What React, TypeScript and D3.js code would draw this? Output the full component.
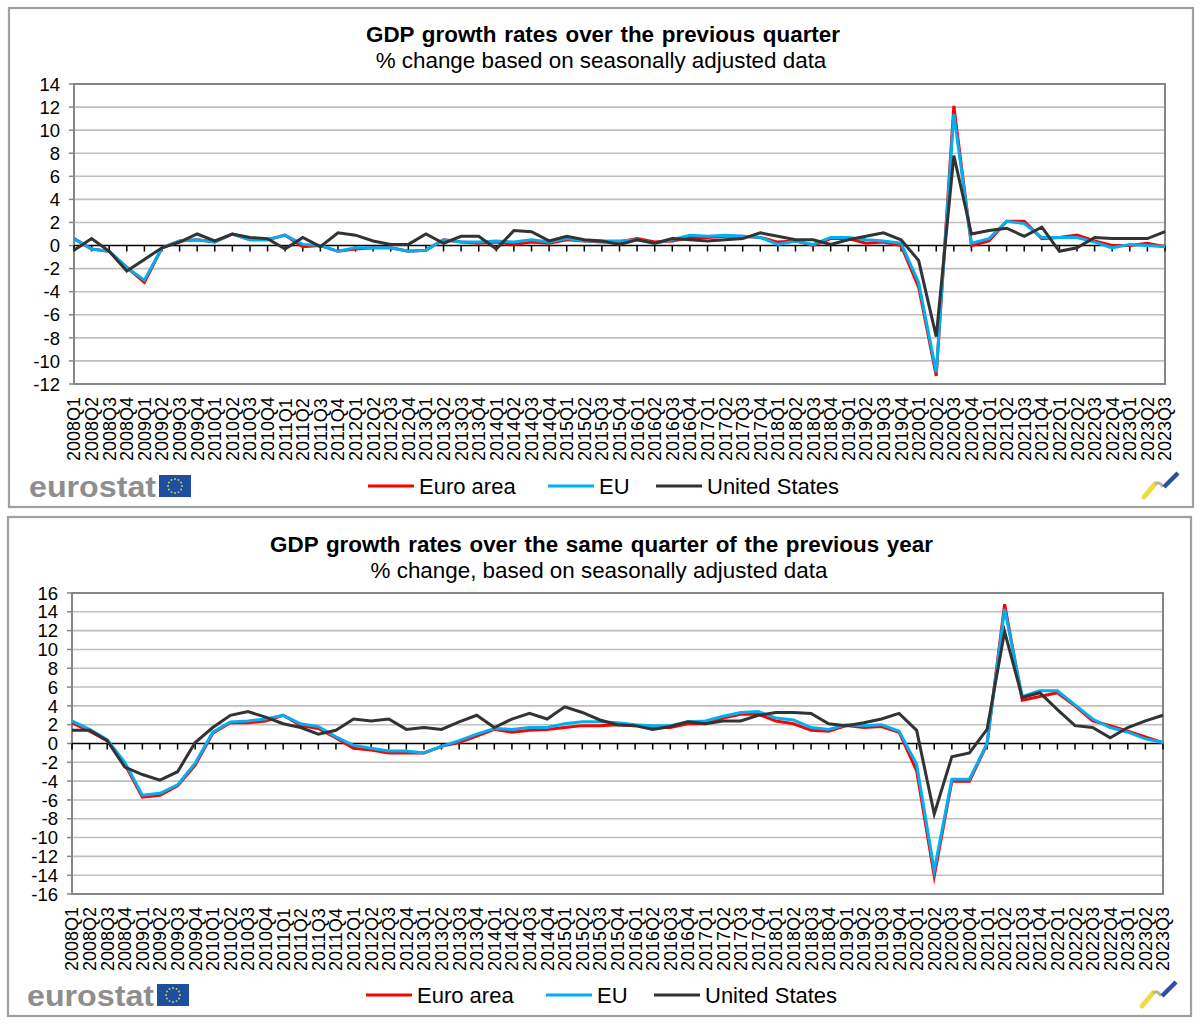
import React from 'react';
import * as d3 from 'd3';

const years = d3.range(2008, 2024);
const quarters = years.flatMap(y => [1, 2, 3, 4].map(q => `${y}Q${q}`)).slice(0, 63);

// previous quarter
const qoqEuroArea = [0.6, -0.3, -0.5, -1.9, -3.2, -0.2, 0.4, 0.5, 0.3, 1.0, 0.5, 0.5, 0.9, -0.1, 0, -0.5, -0.3, -0.2, -0.2, -0.5, -0.4, 0.5, 0.3, 0.2, 0.3, 0.1, 0.3, 0.2, 0.5, 0.4, 0.3, 0.3, 0.6, 0.3, 0.4, 0.7, 0.7, 0.8, 0.8, 0.7, 0.3, 0.4, 0.0, 0.6, 0.6, 0.2, 0.3, 0.0, -3.6, -11.3, 12.1, 0, 0.4, 2.1, 2.1, 0.6, 0.7, 0.9, 0.4, 0, 0, 0.2, -0.1];
const qoqEU = [0.6, -0.3, -0.5, -1.9, -3.0, -0.2, 0.4, 0.5, 0.3, 1.0, 0.5, 0.5, 0.9, 0.1, 0, -0.5, -0.2, -0.2, -0.2, -0.5, -0.4, 0.5, 0.3, 0.3, 0.4, 0.3, 0.5, 0.3, 0.6, 0.4, 0.4, 0.4, 0.5, 0.2, 0.5, 0.9, 0.8, 0.9, 0.8, 0.7, 0.1, 0.4, 0.1, 0.7, 0.7, 0.5, 0.4, 0.2, -3.2, -11.0, 11.4, 0.2, 0.6, 2.1, 1.9, 0.7, 0.7, 0.7, 0.3, -0.2, 0.1, 0, -0.1];
const qoqUS = [-0.4, 0.6, -0.5, -2.2, -1.2, -0.2, 0.3, 1.0, 0.4, 1.0, 0.7, 0.6, -0.3, 0.7, -0.1, 1.1, 0.9, 0.4, 0.1, 0.1, 1.0, 0.2, 0.8, 0.8, -0.3, 1.3, 1.2, 0.4, 0.8, 0.5, 0.4, 0.1, 0.5, 0.2, 0.6, 0.5, 0.4, 0.5, 0.6, 1.1, 0.8, 0.5, 0.5, 0.1, 0.5, 0.8, 1.1, 0.5, -1.3, -7.9, 7.8, 1.0, 1.3, 1.5, 0.8, 1.6, -0.5, -0.2, 0.7, 0.6, 0.6, 0.6, 1.2];

// same quarter of the previous year
const yoyEuroArea = [2.2, 1.3, 0.3, -2.2, -5.7, -5.5, -4.5, -2.3, 1.1, 2.2, 2.2, 2.4, 3.0, 1.9, 1.6, 0.6, -0.5, -0.7, -1.0, -1.0, -1.0, -0.3, 0.1, 0.8, 1.5, 1.2, 1.4, 1.5, 1.7, 1.9, 1.9, 2.0, 1.9, 1.7, 1.7, 2.1, 2.1, 2.7, 3.1, 3.1, 2.4, 2.1, 1.4, 1.3, 1.9, 1.7, 1.8, 1.2, -2.9, -14.1, -4.0, -4.0, -0.1, 14.8, 4.6, 5.0, 5.4, 4.0, 2.4, 1.9, 1.3, 0.7, 0.1];
const yoyEU = [2.4, 1.5, 0.4, -2.0, -5.5, -5.3, -4.4, -2.1, 1.2, 2.3, 2.4, 2.6, 3.0, 2.1, 1.8, 0.7, -0.2, -0.5, -0.8, -0.8, -1.0, -0.3, 0.3, 1.0, 1.6, 1.5, 1.7, 1.7, 2.1, 2.3, 2.3, 2.2, 2.0, 1.9, 1.9, 2.3, 2.4, 2.9, 3.3, 3.4, 2.7, 2.5, 1.7, 1.5, 2.0, 1.9, 2.0, 1.3, -2.2, -13.5, -3.8, -3.8, 0, 14.3, 5.0, 5.6, 5.6, 4.1, 2.6, 1.7, 1.2, 0.5, 0.1];
const yoyUS = [1.4, 1.4, 0.3, -2.5, -3.3, -3.9, -3.0, 0.1, 1.7, 3.0, 3.4, 2.8, 2.1, 1.7, 1.0, 1.4, 2.6, 2.4, 2.6, 1.5, 1.7, 1.5, 2.3, 3.0, 1.7, 2.6, 3.2, 2.6, 3.9, 3.3, 2.5, 2.0, 1.9, 1.5, 1.8, 2.3, 2.1, 2.4, 2.4, 3.0, 3.3, 3.3, 3.2, 2.1, 1.9, 2.2, 2.6, 3.2, 1.4, -7.5, -1.4, -1.0, 1.5, 11.9, 4.9, 5.4, 3.6, 1.9, 1.7, 0.6, 1.7, 2.4, 3.0];

const seriesNames = ['Euro area', 'EU', 'United States'];
const seriesColors = ['#ff0000', '#00b0f0', '#333333'];

const font = '"Liberation Sans", Arial, sans-serif';

interface PanelProps {
  frame: [number, number, number, number];
  plot: [number, number, number, number];
  domain: [number, number];
  title: string;
  subtitle: string;
  titleX: number;
  subtitleX: number;
  titleY: number;
  series: number[][];
}

const Panel: React.FC<PanelProps> = ({ frame, plot, domain, title, subtitle, titleX, subtitleX, titleY, series }) => {
  const [fx0, fy0, fx1, fy1] = frame;
  const [px0, py0, px1, py1] = plot;
  const x = d3.scalePoint<string>().domain(quarters).range([px0, px1]);
  const y = d3.scaleLinear().domain(domain).range([py1, py0]);
  const ticks = d3.range(domain[0], domain[1] + 1, 2);
  const line = d3.line<number>()
    .x((_, i) => x(quarters[i]) as number)
    .y(d => y(d));
  const legendY = fy1 - 21;
  const dx = px0 - 74;
  const legendX = [368, 548, 656];

  return (
    <g fontFamily={font}>
      <rect x={fx0} y={fy0} width={fx1 - fx0} height={fy1 - fy0} fill="#fff" stroke="#a0a0a0" strokeWidth={2.2} />
      <text x={titleX} y={titleY} textAnchor="middle" fontSize={22.4} fontWeight="bold" fill="#000" wordSpacing={1.5}>{title}</text>
      <text x={subtitleX} y={titleY + 26} textAnchor="middle" fontSize={22.4} fill="#000">{subtitle}</text>

      {ticks.map(t => (
        <g key={t}>
          {t !== 0 && <line x1={px0} x2={px1} y1={y(t)} y2={y(t)} stroke="#bfbfbf" strokeWidth={1.6} />}
          <line x1={px0 - 5} x2={px0} y1={y(t)} y2={y(t)} stroke="#868686" strokeWidth={1.5} />
          <text x={px0 - 14} y={y(t)} dy="0.36em" textAnchor="end" fontSize={18.5} fill="#000">{t}</text>
        </g>
      ))}
      <rect x={px0} y={py0} width={px1 - px0} height={py1 - py0} fill="none" stroke="#868686" strokeWidth={2} />

      {quarters.map(q => (
        <g key={q}>
          <line x1={x(q)} x2={x(q)} y1={y(0)} y2={y(0) + 6} stroke="#000" strokeWidth={1.5} />
          <text transform={`translate(${x(q)},${py1 + 77}) rotate(-90)`} dy="0.36em" fontSize={18} fill="#000">{q}</text>
        </g>
      ))}
      <line x1={px0} x2={px1} y1={y(0)} y2={y(0)} stroke="#000" strokeWidth={1.6} />

      {series.map((s, i) => (
        <path key={seriesNames[i]} d={line(s) as string} fill="none" stroke={seriesColors[i]} strokeWidth={3} strokeLinejoin="miter" strokeMiterlimit={6} />
      ))}

      {seriesNames.map((name, i) => (
        <g key={name}>
          <line x1={legendX[i] + dx} x2={legendX[i] + dx + 46} y1={legendY} y2={legendY} stroke={seriesColors[i]} strokeWidth={3} />
          <text x={legendX[i] + dx + 51} y={legendY + 8} fontSize={22} fill="#000">{name}</text>
        </g>
      ))}

      {/* eurostat mark */}
      <text x={29 + dx} y={legendY + 11} fontSize={30} fontWeight="bold" fill="#8e8e8e" textLength={127} lengthAdjust="spacingAndGlyphs">eurostat</text>
      <rect x={159 + dx} y={legendY - 11} width={32} height={22} fill="#1d4f9f" />
      {d3.range(12).map(k => (
        <circle key={k} cx={175 + dx + 7 * Math.cos((k * Math.PI) / 6)} cy={legendY + 7 * Math.sin((k * Math.PI) / 6)} r={0.9} fill="#e6d24a" />
      ))}

      {/* small brush mark in the corner */}
      <path d={`M${1144 + dx},${legendY + 11} L${1155 + dx},${legendY - 2}`} stroke="#efd52d" strokeWidth={5} fill="none" strokeLinecap="round" opacity={0.9} />
      <path d={`M${1155 + dx},${legendY - 2} Q${1160 + dx},${legendY - 5} ${1163 + dx},${legendY + 1}`} stroke="#b5b5a5" strokeWidth={3} fill="none" />
      <path d={`M${1164 + dx},${legendY + 1} L${1178 + dx},${legendY - 13}`} stroke="#2a4fa5" strokeWidth={4.5} fill="none" />
    </g>
  );
};

export default function App() {
  return (
    <svg width={1200} height={1024} style={{ position: 'absolute', left: 0, top: 0 }}>
      <rect width={1200} height={1024} fill="#fff" />
      <Panel
        frame={[9, 8, 1193, 507]}
        plot={[74, 84, 1165, 384]}
        domain={[-12, 14]}
        title="GDP growth rates over the previous quarter"
        subtitle="% change based on seasonally adjusted data"
        titleX={603}
        subtitleX={601}
        titleY={42}
        series={[qoqEuroArea, qoqEU, qoqUS]}
      />
      <Panel
        frame={[8, 517, 1191, 1016]}
        plot={[72, 593, 1163, 894]}
        domain={[-16, 16]}
        title="GDP growth rates over the same quarter of the previous year"
        subtitle="% change, based on seasonally adjusted data"
        titleX={601.5}
        subtitleX={599}
        titleY={552}
        series={[yoyEuroArea, yoyEU, yoyUS]}
      />
    </svg>
  );
}
